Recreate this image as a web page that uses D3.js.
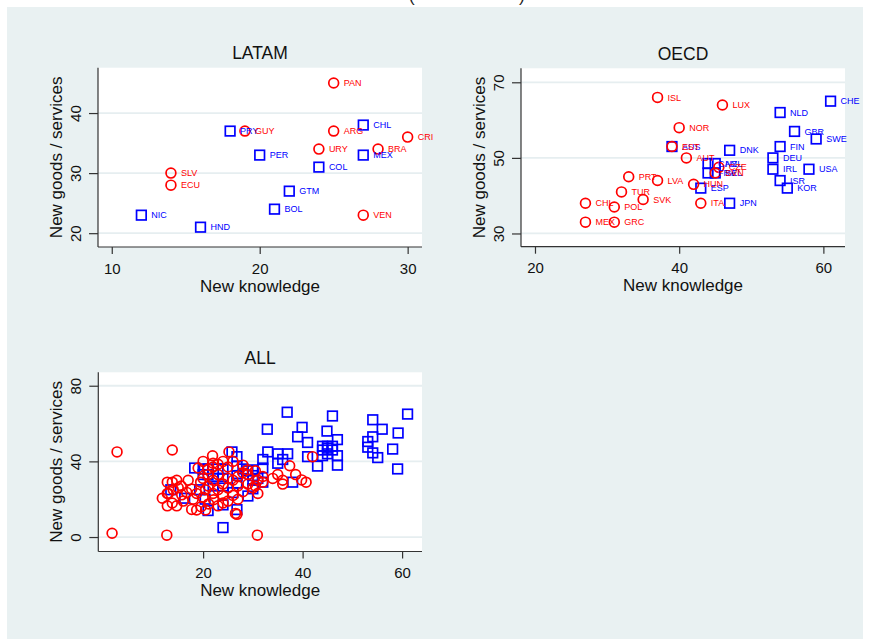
<!DOCTYPE html>
<html>
<head>
<meta charset="utf-8">
<script src="https://cdn.jsdelivr.net/npm/d3@7"></script>
<style>
  html, body { margin: 0; padding: 0; background: #ffffff; }
  svg { display: block; font-family: "Liberation Sans", Arial, sans-serif; }
</style>
</head>
<body>
<svg id="chart" width="869" height="639"></svg>
<script>
// ---------------- DATA ----------------
const panelTitles = ["LATAM", "OECD", "ALL"];
const xAxisTitle = "New knowledge";
const yAxisTitle = "New goods / services";

// LATAM
const latamXTicks = [10, 20, 30];
const latamYTicks = [20, 30, 40];
const latamRedCodes = ["PAN", "GUY", "ARG", "CRI", "URY", "BRA", "SLV", "ECU", "VEN"];
const latamRedX = [25, 19, 25, 30, 24, 28, 14, 14, 27];
const latamRedY = [45, 37, 37, 36, 34, 34, 30, 28, 23];
const latamBlueCodes = ["PRY", "CHL", "PER", "MEX", "COL", "GTM", "BOL", "NIC", "HND"];
const latamBlueX = [18, 27, 20, 27, 24, 22, 21, 12, 16];
const latamBlueY = [37, 38, 33, 33, 31, 27, 24, 23, 21];

// OECD
const oecdXTicks = [20, 40, 60];
const oecdYTicks = [30, 50, 70];
const oecdRedCodes = ["ISL", "LUX", "NOR", "EST", "AUT", "CZE", "SVN", "PRT", "LVA", "HUN", "TUR", "SVK", "CHL", "POL", "ITA", "MEX", "GRC"];
const oecdRedX = [37, 46, 40, 39, 41, 45.5, 45, 33, 37, 42, 32, 35, 27, 31, 43, 27, 31];
const oecdRedY = [66, 64, 58, 53, 50, 47.5, 46, 45, 44, 43, 41, 39, 38, 37, 38, 33, 33];
const oecdBlueCodes = ["CHE", "NLD", "GBR", "SWE", "AUS", "DNK", "FIN", "DEU", "CAN", "NZL", "FRA", "BEL", "IRL", "USA", "ISR", "KOR", "ESP", "JPN"];
const oecdBlueX = [61, 54, 56, 59, 39, 47, 54, 53, 44, 45, 44, 45, 53, 58, 54, 55, 43, 47];
const oecdBlueY = [65, 62, 57, 55, 53, 52, 53, 50, 48.5, 48.5, 46, 46, 47, 47, 44, 42, 42, 38];

// ALL
const allXTicks = [20, 40, 60];
const allYTicks = [0, 40, 80];
const allRedX = [2.7, 1.7, 12.7, 30.9, 13.8, 25.2, 21.9, 20, 23, 19, 21, 22, 25, 24, 22,
  37.4, 38.6, 39.8, 40.7, 36, 36, 31, 28.9, 28, 30.5, 32, 42, 26,
  12.8, 13.8, 14.7, 15.6, 11.8, 12.8, 12.8, 13.8, 14.7, 15.7, 16.7, 17.7, 18.7, 17.7, 18.7, 19.6, 20.5,
  21.1, 22.1, 23, 24, 25, 19.5, 20, 21, 22, 23, 24, 25, 26, 27, 28, 29, 30, 26, 27, 24, 22, 20, 18, 16,
  14, 15, 13, 17, 21, 23, 25, 27, 29, 26.5, 30.5, 32, 35, 20.5, 28, 31, 34, 26.8];
const allRedY = [45, 2, 1, 1, 46, 45, 43, 40, 38.5, 36.5, 36, 37, 37, 40, 39,
  37.7, 33, 30.2, 29, 30, 28, 23, 35.5, 34, 35, 32, 42.5, 40,
  29, 29, 30, 27, 20.5, 23, 16.5, 18, 16.5, 22.3, 23.6, 25.4, 23, 14.6, 14.3, 16, 14.3,
  17.5, 19.7, 16.5, 18, 19, 29, 31, 27, 30, 25, 28, 26, 30, 27, 24, 28, 26, 22, 20, 22, 23, 21, 20, 19,
  25, 26, 23, 30, 33, 33, 31, 32, 33, 12.5, 27, 29, 33, 25, 38, 30, 31, 12];
const allBlueX = [36.9, 46, 61.1, 54.1, 32.9, 39.9, 56, 44.9, 39, 54.1, 59.2, 41, 47, 53.1, 53.1, 58.1,
  54.1, 55.1, 59.1, 47, 47, 44, 45, 46, 44, 45, 41, 43, 33, 35, 37, 35, 36, 32, 25.8, 26.8, 26.8,
  32, 32, 30, 30, 31, 38, 30, 29, 24, 26.8, 21, 24, 26, 26.8, 24, 23, 21, 20, 18.3, 20, 21, 22, 24,
  22, 24, 19.3, 20.4, 16.3, 13.5, 26.8, 30, 28, 29, 46, 45, 44];
const allBlueY = [66, 64, 65, 62, 57, 58, 57, 56, 53, 53, 55, 50, 51.5, 50.5, 47.5, 46.5,
  44.5, 42, 36, 43, 38, 46, 47, 46, 43, 44, 42.5, 37.5, 45, 44, 44, 39, 41, 41, 45, 42.5, 37.5,
  36.5, 29, 35.5, 32.5, 31, 29, 25.5, 21.7, 17, 14.5, 14, 5, 23.5, 32.5, 36, 36, 36, 36, 36.5, 33, 33, 31, 31,
  27, 27, 25, 20, 20.5, 25, 28.5, 30, 36, 35, 48, 48, 48];

// ---------------- DRAWING ----------------
const RED = "#ff0000", BLUE = "#0000ff";
const BG = "#e9f1f2", GRID = "#e6eef0", AXIS = "#333333";
const svg = d3.select("#chart");

svg.append("rect").attr("x", 0).attr("y", 0).attr("width", 869).attr("height", 639).attr("fill", "#ffffff");
svg.append("rect").attr("x", 7).attr("y", 7).attr("width", 856).attr("height", 632).attr("fill", BG);

// cut-off graph title remnants
svg.append("text").attr("x", 409).attr("y", 1.5).attr("font-size", 17).attr("fill", "#222").text("(");
svg.append("text").attr("x", 519).attr("y", 1.5).attr("font-size", 17).attr("fill", "#222").text(")");

function panel(cfg) {
  const { left, right, top, bottom, xDom, yDom, xTicks, yTicks, title, red, blue, labels } = cfg;
  const x = d3.scaleLinear().domain(xDom).range([left, right]);
  const y = d3.scaleLinear().domain(yDom).range([bottom, top]);
  const g = svg.append("g");

  g.append("rect").attr("x", left).attr("y", top).attr("width", right - left).attr("height", bottom - top).attr("fill", "#ffffff");

  // gridlines
  g.selectAll(".grid").data(yTicks).enter().append("line")
    .attr("x1", left).attr("x2", right)
    .attr("y1", d => y(d)).attr("y2", d => y(d))
    .attr("stroke", GRID).attr("stroke-width", 1.8);

  // x axis
  const xa = g.append("g").attr("transform", `translate(0,${bottom})`)
    .call(d3.axisBottom(x).tickValues(xTicks).tickSize(7).tickSizeOuter(0).tickFormat(d3.format("d")));
  xa.select(".domain").attr("stroke", AXIS).attr("stroke-width", 1.2).attr("d", `M${left},0H${right}`);
  xa.selectAll(".tick line").attr("stroke", AXIS).attr("stroke-width", 1.2);
  xa.selectAll(".tick text").attr("font-size", 15).attr("fill", "#111")
    .attr("font-family", "Liberation Sans, Arial, sans-serif").attr("y", 26.5).attr("dy", 0);

  // y axis
  const ya = g.append("g").attr("transform", `translate(${left},0)`)
    .call(d3.axisLeft(y).tickValues(yTicks).tickSize(9).tickSizeOuter(0).tickFormat(d3.format("d")));
  ya.select(".domain").attr("stroke", AXIS).attr("stroke-width", 1.2).attr("d", `M0,${top}V${bottom}`);
  ya.selectAll(".tick line").attr("stroke", AXIS).attr("stroke-width", 1.2);
  ya.selectAll(".tick text").attr("font-size", 15).attr("fill", "#111")
    .attr("font-family", "Liberation Sans, Arial, sans-serif")
    .attr("transform", "rotate(-90)").attr("x", 0).attr("y", -17).attr("dy", 0)
    .attr("text-anchor", "middle");

  // axis titles
  g.append("text").attr("x", (left + right) / 2).attr("y", bottom + 44.5)
    .attr("text-anchor", "middle").attr("font-size", 17).attr("fill", "#111").text(xAxisTitle);
  g.append("text").attr("transform", `translate(${left - 36},${(top + bottom) / 2}) rotate(-90)`)
    .attr("text-anchor", "middle").attr("font-size", 17).attr("fill", "#111").text(yAxisTitle);

  // panel title
  g.append("text").attr("x", (left + right) / 2).attr("y", top - 8.5)
    .attr("text-anchor", "middle").attr("font-size", 17.5).attr("fill", "#111").text(title);

  // markers
  const redPts = red.x.map((v, i) => ({ x: v, y: red.y[i], c: red.codes ? red.codes[i] : null }));
  const bluePts = blue.x.map((v, i) => ({ x: v, y: blue.y[i], c: blue.codes ? blue.codes[i] : null }));
  const hs = 4.8;

  g.selectAll(".sq").data(bluePts).enter().append("rect")
    .attr("x", d => x(d.x) - hs).attr("y", d => y(d.y) - hs)
    .attr("width", 2 * hs).attr("height", 2 * hs)
    .attr("fill", "none").attr("stroke", BLUE).attr("stroke-width", 1.7);
  g.selectAll(".ci").data(redPts).enter().append("circle")
    .attr("cx", d => x(d.x)).attr("cy", d => y(d.y)).attr("r", 4.9)
    .attr("fill", "none").attr("stroke", RED).attr("stroke-width", 1.7);

  if (labels) {
    g.selectAll(".bl").data(bluePts).enter().append("text")
      .attr("x", d => x(d.x) + 10).attr("y", d => y(d.y)).attr("dy", "0.35em")
      .attr("font-size", 9).attr("fill", BLUE).text(d => d.c);
    g.selectAll(".rl").data(redPts).enter().append("text")
      .attr("x", d => x(d.x) + 10).attr("y", d => y(d.y)).attr("dy", "0.35em")
      .attr("font-size", 9).attr("fill", RED).text(d => d.c);
  }
}

panel({
  left: 98, right: 422, top: 67.7, bottom: 247,
  xDom: [9.07, 30.97], yDom: [17.7, 47.55],
  xTicks: latamXTicks, yTicks: latamYTicks, title: panelTitles[0], labels: true,
  red: { x: latamRedX, y: latamRedY, codes: latamRedCodes },
  blue: { x: latamBlueX, y: latamBlueY, codes: latamBlueCodes }
});

panel({
  left: 521, right: 845, top: 68.3, bottom: 246.7,
  xDom: [18.06, 63.0], yDom: [26.5, 73.7],
  xTicks: oecdXTicks, yTicks: oecdYTicks, title: panelTitles[1], labels: true,
  red: { x: oecdRedX, y: oecdRedY, codes: oecdRedCodes },
  blue: { x: oecdBlueX, y: oecdBlueY, codes: oecdBlueCodes }
});

panel({
  left: 98.3, right: 422, top: 372.3, bottom: 551.5,
  xDom: [-1.07, 64.0], yDom: [-7.65, 87.1],
  xTicks: allXTicks, yTicks: allYTicks, title: panelTitles[2], labels: false,
  red: { x: allRedX, y: allRedY },
  blue: { x: allBlueX, y: allBlueY }
});
</script>
</body>
</html>
